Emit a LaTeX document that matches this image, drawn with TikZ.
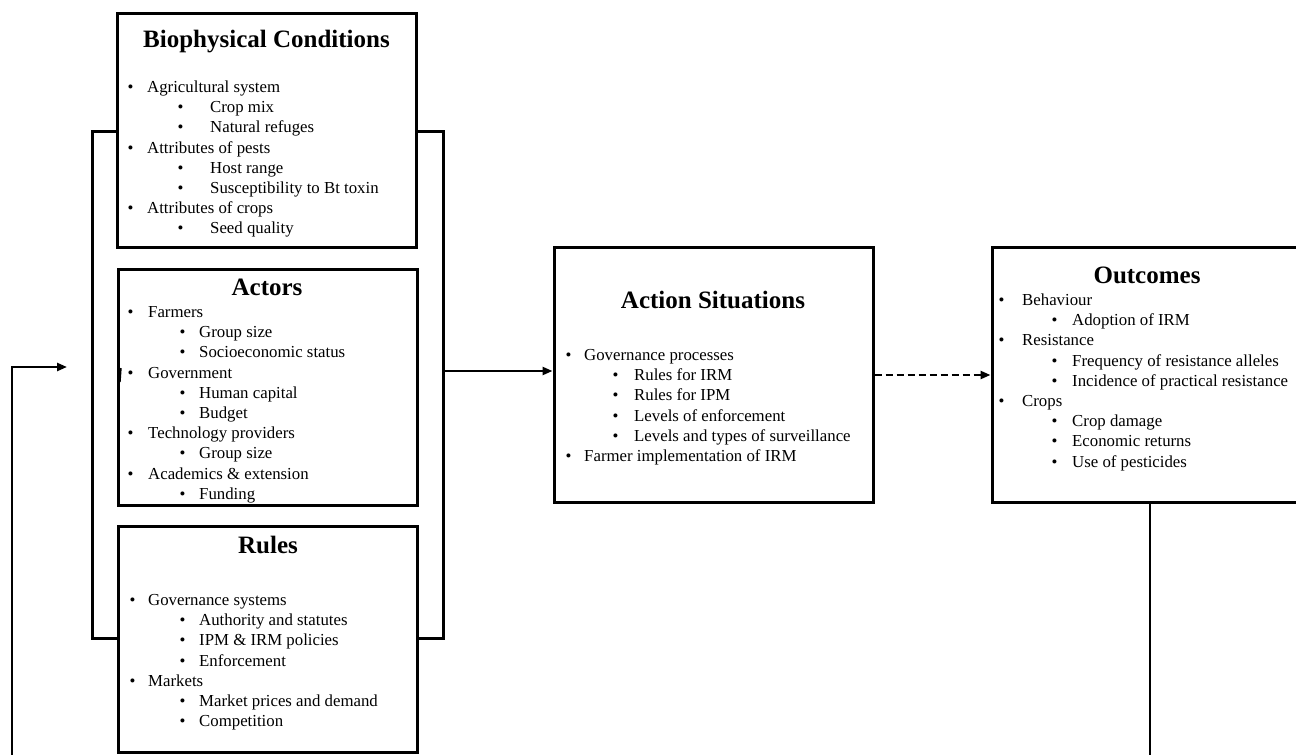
\documentclass[tikz,border=0pt]{standalone}
\usepackage{fontspec}
\setmainfont{Liberation Serif}
\usetikzlibrary{arrows.meta}
\tikzset{
 box/.style={draw, line width=3pt, fill=white, inner sep=0pt},
 grpbox/.style={draw, line width=3pt, inner sep=0pt},
 ttl/.style={font=\fontsize{25}{28}\selectfont\bfseries, anchor=base, inner sep=0pt},
 itm/.style={font=\fontsize{16.8}{20}\selectfont, anchor=base west, inner sep=0pt},
 conn/.style={line width=2.4pt},
 arr/.style={conn, -{Triangle[length=10pt,width=8pt]}},
}
\newcommand\mylist[7]{%
 \foreach \lv/\t [count=\i] in {#7} {
   \ifnum\lv=1
     \node[itm] (#1\i) at (#2, #6+20.2*\i-20.2) {\makebox[#3pt][l]{\textbullet}\t};
   \else
     \node[itm] (#1\i) at (#4, #6+20.2*\i-20.2) {\makebox[#5pt][l]{\textbullet}\t};
   \fi
 }}
\begin{document}
\begin{tikzpicture}[x=1pt,y=-1pt]
\useasboundingbox (0,0) rectangle (1296,755);
\clip (0,0) rectangle (1296,755);
% group bracket
\node[grpbox, minimum width=351pt, minimum height=507pt] (grp) at (267.5,384.5) {};
% boxes
\node[box, minimum width=299pt, minimum height=234pt] (bio) at (266.5,130) {};
\node[box, minimum width=299pt, minimum height=236pt] (act) at (267.5,387) {};
\node[box, minimum width=299pt, minimum height=226pt] (rul) at (267.5,639) {};
\node[box, minimum width=319pt, minimum height=255pt] (as) at (713.5,374.5) {};
\node[box, minimum width=310pt, minimum height=255pt] (out) at (1147,374.5) {};
% titles
\node[ttl] (biot) at (266.5,47) {Biophysical Conditions};
\node[ttl] (actt) at (267,295) {Actors};
\node[ttl] (rult) at (268,553) {Rules};
\node[ttl] (ast) at (713,308) {Action Situations};
\node[ttl] (outt) at (1147,283) {Outcomes};
% lists
\mylist{b}{127.5}{19.5}{177.5}{32.5}{92.5}{1/Agricultural system,2/Crop mix,2/Natural refuges,1/Attributes of pests,2/Host range,2/Susceptibility to Bt toxin,1/Attributes of crops,2/Seed quality}
\mylist{a}{127.5}{20.5}{179.5}{19.5}{317.5}{1/Farmers,2/Group size,2/Socioeconomic status,1/Government,2/Human capital,2/Budget,1/Technology providers,2/Group size,1/Academics \& extension,2/Funding}
\mylist{r}{129.5}{18.5}{179.5}{19.5}{605.5}{1/Governance systems,2/Authority and statutes,2/IPM \& IRM policies,2/Enforcement,1/Markets,2/Market prices and demand,2/Competition}
\mylist{s}{565.5}{18.5}{612.5}{21.5}{360.5}{1/Governance processes,2/Rules for IRM,2/Rules for IPM,2/Levels of enforcement,2/Levels and types of surveillance,1/Farmer implementation of IRM}
\mylist{o}{998.5}{23.5}{1051.5}{20.5}{305.5}{1/Behaviour,2/Adoption of IRM,1/Resistance,2/Frequency of resistance alleles,2/Incidence of practical resistance,1/Crops,2/Crop damage,2/Economic returns,2/Use of pesticides}
% connectors
\coordinate (ya) at (0,371);
\coordinate (yd) at (0,375);
\draw[arr] (grp.east |- ya) -- (as.west |- ya);
\draw[arr, dash pattern=on 7pt off 4pt] (as.east |- yd) -- (out.west |- yd);
\coordinate (fbx) at (1150,0);
\coordinate (fbbot) at (1150,760);
\draw[conn] (out.south -| fbx) -- (fbbot);
\coordinate (fbl) at (12,760);
\coordinate (fbend) at (67,367);
\draw[arr] (fbl) |- (fbend);
\coordinate (tk1) at (120.5,368);
\coordinate (tk2) at (119.5,382);
\draw[conn] (tk1) -- (tk2);
\end{tikzpicture}
\end{document}
